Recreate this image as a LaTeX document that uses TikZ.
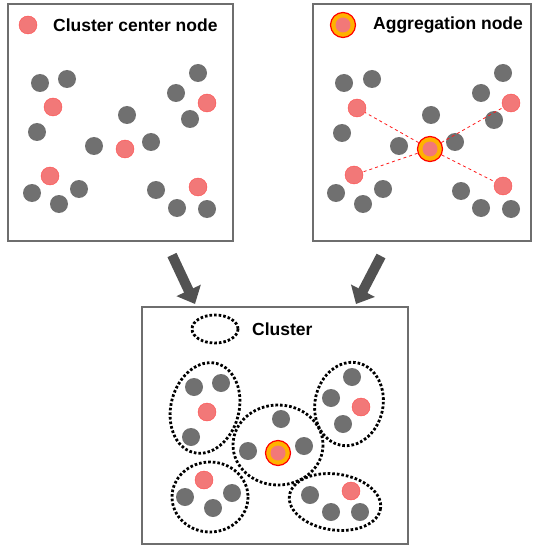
\documentclass[tikz,border=0pt]{standalone}
\usepackage{fontspec}
\setmainfont{Liberation Sans}
\usetikzlibrary{arrows.meta, positioning}
\definecolor{boxgray}{RGB}{110,110,110}
\definecolor{dotgray}{RGB}{112,112,112}
\definecolor{centerred}{RGB}{242,120,120}
\definecolor{ringorange}{RGB}{255,178,0}
\tikzstyle{panel} = [
    draw=boxgray,
    line width=1.8pt
]
\tikzstyle{member} = [
    circle,
    fill=dotgray,
    minimum size=18pt,
    inner sep=0pt
]
\tikzstyle{center} = [
    circle,
    fill=centerred,
    draw=red!70,
    line width=0.4pt,
    minimum size=18pt,
    inner sep=0pt
]
\tikzstyle{aggring} = [
    circle,
    fill=ringorange,
    draw=red,
    line width=1.2pt,
    minimum size=25pt,
    inner sep=0pt
]
\tikzstyle{aggcore} = [
    circle,
    fill=centerred,
    minimum size=15pt,
    inner sep=0pt
]
\tikzstyle{legend} = [
    font=\fontsize{17.5}{20}\selectfont\bfseries,
    anchor=west,
    inner sep=0pt
]
\tikzstyle{link} = [
    red!90,
    dashed,
    line width=0.8pt
]
\tikzstyle{cluster} = [
    black,
    line width=2.8pt,
    dash pattern=on 2.6pt off 2.0pt
]
\tikzstyle{bigarrow} = [
    line width=10pt,
    -{Triangle[width=26pt,length=15pt]},
    color=black!68
]

\begin{document}
\begin{tikzpicture}[x=1pt, y=-1pt]

\useasboundingbox (0,0) rectangle (534,548);

% panels
\draw[panel] (8,4) rectangle (233,241);
\draw[panel] (313,4) rectangle (531,241);
\draw[panel] (142,307) rectangle (408,544);

% left panel: cluster centers
\node (lkey)  [center] at (28,25) {};
\node (ltext) [legend] at (53,25) {Cluster center node};

\node (la1) [member] at (40,83) {};
\node (la2) [member] at (67,79) {};
\node (la3) [member] at (37,132) {};
\node (lac) [center] at (53,107) {};

\node (lb1) [member] at (127,115) {};
\node (lb2) [member] at (94,146) {};
\node (lb3) [member] at (151,142) {};
\node (lbc) [center] at (125,149) {};

\node (lc1) [member] at (198,73) {};
\node (lc2) [member] at (176,93) {};
\node (lc3) [member] at (190,119) {};
\node (lcc) [center] at (207,103) {};

\node (ld1) [member] at (32,193) {};
\node (ld2) [member] at (59,204) {};
\node (ld3) [member] at (79,189) {};
\node (ldc) [center] at (50,176) {};

\node (le1) [member] at (156,190) {};
\node (le2) [member] at (177,208) {};
\node (le3) [member] at (207,209) {};
\node (lec) [center] at (198,187) {};

% right panel: aggregation
\node (rkey)  [aggring] at (343,25) {};
\node (rkeyc) [aggcore] at (rkey) {};
\node (rtext) [legend] at (373,25) {Aggregation node};

\node (ra1) [member] at (344,83) {};
\node (ra2) [member] at (372,79) {};
\node (ra3) [member] at (342,133) {};
\node (rb1) [member] at (431,115) {};
\node (rb2) [member] at (399,146) {};
\node (rb3) [member] at (455,142) {};
\node (rc1) [member] at (503,73) {};
\node (rc2) [member] at (481,93) {};
\node (rc3) [member] at (494,120) {};
\node (rd1) [member] at (336,193) {};
\node (rd2) [member] at (363,204) {};
\node (rd3) [member] at (383,189) {};
\node (re1) [member] at (461,191) {};
\node (re2) [member] at (481,208) {};
\node (re3) [member] at (511,209) {};

\node (rac) [center] at (357,108) {};
\node (rcc) [center] at (511,103) {};
\node (rdc) [center] at (354,175) {};
\node (rec) [center] at (503,186) {};

\node (ragg) [aggring] at (430,149) {};
\node (raggc) [aggcore] at (ragg) {};

\draw[link] (ragg) -- (rac);
\draw[link] (ragg) -- (rcc);
\draw[link] (ragg) -- (rdc);
\draw[link] (ragg) -- (rec);

% arrows down to the result
\coordinate (lfrom) at (172,255);
\coordinate (lto)   at (195,304);
\coordinate (rfrom) at (381,256);
\coordinate (rto)   at (356,304);
\draw[bigarrow] (lfrom) -- (lto);
\draw[bigarrow] (rfrom) -- (rto);

% bottom panel: clusters
\draw[cluster] (215,329) ellipse [x radius=23, y radius=14];
\node (btext) [legend] at (252,329) {Cluster};

\draw[cluster] (205,408) ellipse [x radius=34, y radius=46, rotate=-15];
\node (ba1) [member] at (194,387) {};
\node (ba2) [member] at (221,383) {};
\node (ba3) [member] at (191,437) {};
\node (bac) [center] at (207,412) {};

\draw[cluster] (278,445) ellipse [x radius=45, y radius=40];
\node (bb1) [member] at (281,419) {};
\node (bb2) [member] at (248,451) {};
\node (bb3) [member] at (304,446) {};
\node (bagg) [aggring] at (278,453) {};
\node (baggc) [aggcore] at (bagg) {};

\draw[cluster] (349,404) ellipse [x radius=34, y radius=42, rotate=-12];
\node (bc1) [member] at (352,377) {};
\node (bc2) [member] at (331,398) {};
\node (bc3) [member] at (343,424) {};
\node (bcc) [center] at (361,407) {};

\draw[cluster] (210,497) ellipse [x radius=38, y radius=35];
\node (bd1) [member] at (185,497) {};
\node (bd2) [member] at (213,508) {};
\node (bd3) [member] at (232,493) {};
\node (bdc) [center] at (204,480) {};

\draw[cluster] (335,502) ellipse [x radius=46, y radius=28, rotate=-8];
\node (be1) [member] at (310,495) {};
\node (be2) [member] at (331,512) {};
\node (be3) [member] at (360,512) {};
\node (bec) [center] at (351,491) {};

\end{tikzpicture}
\end{document}
